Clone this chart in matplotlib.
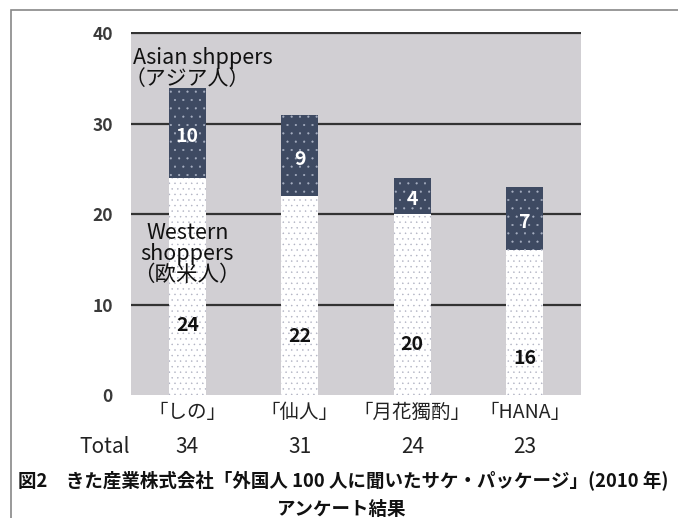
import matplotlib
matplotlib.use("Agg")
import matplotlib.pyplot as plt
import matplotlib.transforms as mtransforms
from matplotlib.patches import Rectangle

plt.rcParams['font.family'] = ['Noto Sans CJK JP', 'DejaVu Sans']
plt.rcParams['hatch.linewidth'] = 0.3

# data
brands = ['「しの」', '「仙人」', '「月花獨酌」', '「HANA」']
western = [24, 22, 20, 16]
asian = [10, 9, 4, 7]
totals = [34, 31, 24, 23]
y_ticks = [0, 10, 20, 30, 40]

# where the western value labels sit inside the bars (as in the original)
west_label_pos = [7.7, 6.5, 5.6, 4.0]

bg_gray = '#d1cfd3'
navy = '#3e4a62'
grid_col = '#333333'

fig = plt.figure(figsize=(6.78, 5.18), dpi=100)
ax = fig.add_axes([131 / 678, 123 / 518, 450 / 678, 363 / 518])
ax.set_facecolor(bg_gray)

x = list(range(len(brands)))
w = 0.33

ax.bar(x, western, width=w, color='white', edgecolor='#aeb0c0',
       linewidth=0, hatch='...', zorder=3)
ax.bar(x, asian, width=w, bottom=western, color=navy, edgecolor='#a8b0c2',
       linewidth=0, hatch='..', zorder=3)

for i in x:
    ax.text(i, west_label_pos[i], str(western[i]), ha='center', va='center',
            fontsize=14, fontweight='bold', color='#111111', zorder=4)
    ax.text(i, western[i] + asian[i] / 2 - 0.4, str(asian[i]), ha='center',
            va='center', fontsize=14, fontweight='bold', color='white', zorder=4)

ax.set_xlim(-0.5, 3.5)
ax.set_ylim(0, 40.15)
ax.set_yticks(y_ticks)
ax.set_yticklabels([str(v) for v in y_ticks], fontsize=12.5,
                   fontweight='semibold', color='#3a3a3a')
ax.set_xticks(x)
ax.set_xticklabels(brands, fontsize=14, color='#222222')
ax.tick_params(axis='both', length=0)
ax.tick_params(axis='y', pad=13)
ax.tick_params(axis='x', pad=5)
for s in ax.spines.values():
    s.set_visible(False)

ax.set_axisbelow(True)
ax.yaxis.grid(True, color=grid_col, linewidth=1.6)
ax.get_ygridlines()[0].set_visible(False)

# series annotations
ax.text(0.004, 37.3, 'Asian shppers', transform=mtransforms.blended_transform_factory(ax.transAxes, ax.transData),
        ha='left', va='center', fontsize=15.5, color='#111111', zorder=5)
ax.text(0, 35.0, '（アジア人）', ha='center', va='center', fontsize=15,
        color='#111111', zorder=5)
ax.text(0, 15.6, 'Western\nshoppers\n（欧米人）', ha='center', va='center',
        fontsize=15.5, linespacing=0.95, color='#111111', zorder=5)

# totals row
trans = mtransforms.blended_transform_factory(ax.transData, fig.transFigure)
fig.text(130 / 678, 1 - 447 / 518, 'Total', ha='right', va='center',
         fontsize=15, color='#222222')
for i in x:
    ax.text(i, 1 - 447 / 518, str(totals[i]), transform=trans, ha='center',
            va='center', fontsize=15, color='#222222')

# caption
fig.text(18 / 678, 1 - 481 / 518,
         '図2　きた産業株式会社「外国人 100 人に聞いたサケ・パッケージ」(2010 年)',
         ha='left', va='center', fontsize=13.3, fontweight='bold', color='#111111')
fig.text(342 / 678, 1 - 509 / 518, 'アンケート結果', ha='center', va='center',
         fontsize=13.3, fontweight='bold', color='#111111')

# outer frame (only left and top edges fall inside the image)
fig.add_artist(Rectangle((11 / 678, -0.1), 1.2, (518 - 10) / 518 + 0.1,
                         transform=fig.transFigure, fill=False,
                         edgecolor='#888888', linewidth=1.2, clip_on=False))

fig.savefig('out.png', dpi=100)
